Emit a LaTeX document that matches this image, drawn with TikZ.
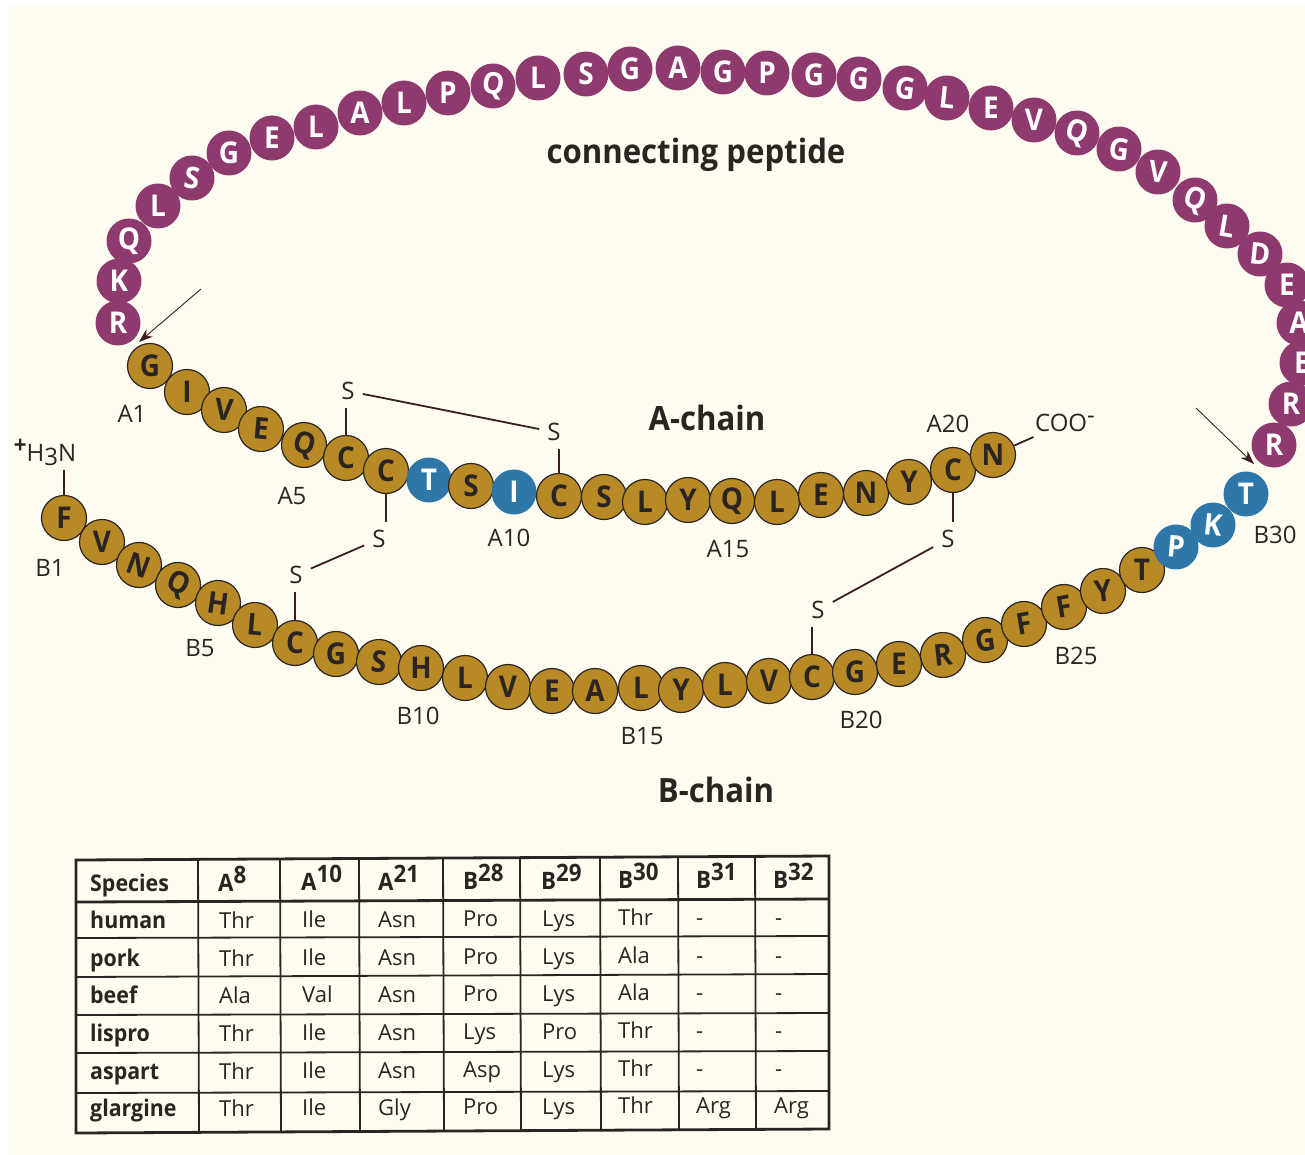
\documentclass[tikz,border=0pt]{standalone}
\usepackage{xcolor}
\usepackage{fontspec}
\setmainfont{Open Sans}[BoldFeatures={FakeStretch=0.93}]
\usetikzlibrary{arrows.meta}
\definecolor{paper}{HTML}{FEFCF0}
\definecolor{inkdark}{HTML}{2A2522}
\definecolor{gold}{HTML}{B88A26}
\definecolor{plum}{HTML}{8E3A6E}
\definecolor{steel}{HTML}{2F77A8}
\definecolor{bondred}{HTML}{3A1F22}
\newcommand{\upnum}[1]{\raisebox{8pt}{#1}}
\newcommand{\downnum}[1]{\raisebox{-4pt}{#1}}

\begin{document}
\begin{tikzpicture}[
  x=1pt, y=-1pt,
  linkres/.style={circle, fill=plum, text=white, inner sep=0pt, minimum size=45pt, font=\fontsize{30}{30}\selectfont\bfseries},
  chainres/.style={circle, draw=inkdark, line width=1.2pt, fill=gold, text=inkdark, inner sep=0pt, minimum size=45pt, font=\fontsize{30}{30}\selectfont\bfseries},
  swapres/.style={circle, fill=steel, text=white, inner sep=0pt, minimum size=45pt, font=\fontsize{30}{30}\selectfont\bfseries},
  sitelabel/.style={text=inkdark, inner sep=0pt, font=\fontsize{24}{26}\selectfont},
  sulfur/.style={text=inkdark, inner sep=8pt, font=\fontsize{24}{26}\selectfont},
  heading/.style={text=inkdark, inner sep=0pt, font=\fontsize{33.5}{35}\selectfont\bfseries},
  bond/.style={draw=bondred, line width=1.8pt},
  cut/.style={draw=bondred, line width=0.9pt, -{Stealth[length=14pt,width=10pt]}},
  gridline/.style={draw=inkdark, line width=1.8pt},
  gridframe/.style={draw=inkdark, line width=2.8pt},
  cellhead/.style={anchor=base west, text=inkdark, inner sep=0pt, font=\fontsize{24}{26}\selectfont\bfseries},
  cellname/.style={anchor=base west, text=inkdark, inner sep=0pt, font=\fontsize{23}{26}\selectfont\bfseries},
  cellval/.style={anchor=base west, text=inkdark, inner sep=0pt, font=\fontsize{22}{26}\selectfont}
]
  \useasboundingbox (0,0) rectangle (1305,1155);
  \fill[paper] (8,5) rectangle (1305,1155);

  % connecting peptide
  \node[linkres] (c1) at (118,323) {R};
  \node[linkres] (c2) at (119,281) {K};
  \node[linkres] (c3) at (129,241) {Q};
  \node[linkres] (c4) at (158,206) {L};
  \node[linkres,rotate=-8] (c5) at (192,178) {S};
  \node[linkres] (c6) at (229,153) {G};
  \node[linkres] (c7) at (272,138) {E};
  \node[linkres] (c8) at (316,127) {L};
  \node[linkres] (c9) at (360,113) {A};
  \node[linkres] (c10) at (404,103) {L};
  \node[linkres] (c11) at (448,93) {P};
  \node[linkres,rotate=-8] (c12) at (493,86) {Q};
  \node[linkres] (c13) at (538,78) {L};
  \node[linkres] (c14) at (586,74) {S};
  \node[linkres] (c15) at (630,69) {G};
  \node[linkres] (c16) at (678,68) {A};
  \node[linkres] (c17) at (723,72) {G};
  \node[linkres] (c18) at (767,73) {P};
  \node[linkres] (c19) at (814,75) {G};
  \node[linkres,rotate=-4] (c20) at (859,79) {G};
  \node[linkres,rotate=-8] (c21) at (905,88) {G};
  \node[linkres,rotate=-6] (c22) at (947,98) {L};
  \node[linkres] (c23) at (991,108) {E};
  \node[linkres] (c24) at (1034,120) {V};
  \node[linkres,rotate=-18] (c25) at (1077,133) {Q};
  \node[linkres,rotate=-8] (c26) at (1119,149) {G};
  \node[linkres,rotate=-6] (c27) at (1158,172) {V};
  \node[linkres,rotate=-20] (c28) at (1195,200) {Q};
  \node[linkres,rotate=-10] (c29) at (1227,226) {L};
  \node[linkres,rotate=-6] (c30) at (1260,254) {D};
  \node[linkres] (c31) at (1287,285) {E};
  \node[linkres] (c32) at (1299,323) {A};
  \node[linkres] (c33) at (1302,363) {E};
  \node[linkres] (c34) at (1291,404) {R};
  \node[linkres] (c35) at (1274,445) {R};

  % A-chain
  \node[chainres] (a1) at (150,366) {G};
  \node[chainres] (a2) at (187,392) {I};
  \node[chainres,rotate=-5] (a3) at (224,410) {V};
  \node[chainres,rotate=-5] (a4) at (261,429) {E};
  \node[chainres,rotate=-15] (a5) at (304,445) {Q};
  \node[chainres] (a6) at (346,458) {C};
  \node[chainres] (a7) at (386,471) {C};
  \node[swapres] (a8) at (429,480) {T};
  \node[chainres] (a9) at (471,486) {S};
  \node[swapres] (a10) at (514,492) {I};
  \node[chainres] (a11) at (559,496) {C};
  \node[chainres] (a12) at (604,497) {S};
  \node[chainres] (a13) at (645,502) {L};
  \node[chainres] (a14) at (688,500) {Y};
  \node[chainres] (a15) at (732,501) {Q};
  \node[chainres] (a16) at (777,502) {L};
  \node[chainres] (a17) at (821,495) {E};
  \node[chainres] (a18) at (866,493) {N};
  \node[chainres] (a19) at (909,482) {Y};
  \node[chainres] (a20) at (953,470) {C};
  \node[chainres] (a21) at (993,455) {N};

  % B-chain
  \node[chainres] (b1) at (64,518) {F};
  \node[chainres] (b2) at (102,542) {V};
  \node[chainres,rotate=-20] (b3) at (139,565) {N};
  \node[chainres,rotate=-25] (b4) at (178,585) {Q};
  \node[chainres,rotate=-8] (b5) at (218,603) {H};
  \node[chainres,rotate=-5] (b6) at (255,625) {L};
  \node[chainres] (b7) at (295,643) {C};
  \node[chainres] (b8) at (336,654) {G};
  \node[chainres,rotate=-6] (b9) at (379,662) {S};
  \node[chainres] (b10) at (421,668) {H};
  \node[chainres] (b11) at (465,678) {L};
  \node[chainres] (b12) at (508,687) {V};
  \node[chainres] (b13) at (552,691) {E};
  \node[chainres] (b14) at (595,691) {A};
  \node[chainres] (b15) at (641,688) {L};
  \node[chainres] (b16) at (681,690) {Y};
  \node[chainres] (b17) at (725,685) {L};
  \node[chainres] (b18) at (769,681) {V};
  \node[chainres] (b19) at (812,677) {C};
  \node[chainres] (b20) at (855,672) {G};
  \node[chainres] (b21) at (899,664) {E};
  \node[chainres,rotate=6] (b22) at (943,655) {R};
  \node[chainres,rotate=8] (b23) at (985,640) {G};
  \node[chainres,rotate=10] (b24) at (1024,624) {F};
  \node[chainres,rotate=10] (b25) at (1064,607) {F};
  \node[chainres,rotate=6] (b26) at (1103,591) {Y};
  \node[chainres] (b27) at (1142,570) {T};
  \node[swapres,rotate=-5] (b28) at (1176,547) {P};
  \node[swapres,rotate=-6] (b29) at (1213,525) {K};
  \node[swapres] (b30) at (1246,494) {T};

  % position labels
  \node[sitelabel] (la1) at (132,414) {A1};
  \node[sitelabel] (la5) at (292,496) {A5};
  \node[sitelabel] (la10) at (509,538) {A10};
  \node[sitelabel] (la15) at (728,549) {A15};
  \node[sitelabel] (la20) at (948,424) {A20};
  \node[sitelabel] (lb1) at (50,568) {B1};
  \node[sitelabel] (lb5) at (200,648) {B5};
  \node[sitelabel] (lb10) at (418,716) {B10};
  \node[sitelabel] (lb15) at (642,736) {B15};
  \node[sitelabel] (lb20) at (861,720) {B20};
  \node[sitelabel] (lb25) at (1076,656) {B25};
  \node[sitelabel] (lb30) at (1275,535) {B30};
  \node[sulfur,inner sep=5pt] (nterm) at (45,452) {\upnum{\textbf{+}}H\downnum{3}N};
  \node[sulfur,inner sep=5pt] (cterm) at (1065,423) {COO\upnum{-}};

  \node[heading] (tconn) at (696,155) {connecting peptide};
  \node[heading] (tachain) at (707,418) {A-chain};
  \node[heading] (tbchain) at (716,790) {B-chain};

  % disulfide bridges
  \node[sulfur] (s1) at (348,391) {S};
  \node[sulfur] (s2) at (554,432) {S};
  \node[sulfur] (s3) at (379,539) {S};
  \node[sulfur] (s4) at (296,575) {S};
  \node[sulfur] (s5) at (948,539) {S};
  \node[sulfur] (s6) at (818,610) {S};
  \draw[bond] (a6) -- (a6 |- s1.south);
  \draw[bond] (a11) -- (a11 |- s2.south);
  \draw[bond] (s1) -- (s2);
  \draw[bond] (a7) -- (a7 |- s3.north);
  \draw[bond] (s3) -- (s4);
  \draw[bond] (b7) -- (b7 |- s4.south);
  \draw[bond] (a20) -- (a20 |- s5.north);
  \draw[bond] (s5) -- (s6);
  \draw[bond] (b19) -- (b19 |- s6.south);
  \draw[bond] (b1) -- (b1 |- nterm.south);
  \draw[bond] (a21) -- (cterm);

  % cleavage sites
  \coordinate (cutafrom) at (201,289);
  \coordinate (cutato) at (139,342);
  \coordinate (cutbfrom) at (1196,408);
  \coordinate (cutbto) at (1254,464);
  \draw[cut] (cutafrom) -- (cutato);
  \draw[cut] (cutbfrom) -- (cutbto);

  % species table
  \draw[gridframe] (76,860) -- (829,856) -- (829,1129) -- (76,1133) -- cycle;
  \draw[gridframe] (76,902) -- (829,899);
  \draw[gridline] (76,938) -- (829,936);
  \draw[gridline] (76,977) -- (829,974);
  \draw[gridline] (76,1015) -- (829,1013);
  \draw[gridline] (76,1053) -- (829,1051);
  \draw[gridline] (76,1093) -- (829,1091);
  \draw[gridline] (198,859) -- (199,1132);
  \draw[gridline] (280,859) -- (281,1132);
  \draw[gridline] (359,859) -- (360,1132);
  \draw[gridline] (443,858) -- (444,1131);
  \draw[gridline] (520,858) -- (521,1131);
  \draw[gridline] (600,858) -- (601,1131);
  \draw[gridline] (678,857) -- (679,1130);
  \draw[gridline] (755,857) -- (756,1130);

  \node[cellname] (h0) at (90,891) {Species};
  \node[cellhead] (h1) at (218,891) {A\upnum{8}};
  \node[cellhead] (h2) at (301,890) {A\upnum{10}};
  \node[cellhead] (h3) at (378,890) {A\upnum{21}};
  \node[cellhead] (h4) at (463,889) {B\upnum{28}};
  \node[cellhead] (h5) at (541,889) {B\upnum{29}};
  \node[cellhead] (h6) at (618,888) {B\upnum{30}};
  \node[cellhead] (h7) at (696,888) {B\upnum{31}};
  \node[cellhead] (h8) at (773,888) {B\upnum{32}};

  \node[cellname] (r1c0) at (90,928) {human};
  \node[cellval] (r1c1) at (219,928) {Thr};
  \node[cellval] (r1c2) at (302,927) {Ile};
  \node[cellval] (r1c3) at (378,927) {Asn};
  \node[cellval] (r1c4) at (463,926) {Pro};
  \node[cellval] (r1c5) at (542,926) {Lys};
  \node[cellval] (r1c6) at (618,925) {Thr};
  \node[cellval] (r1c7) at (696,925) {-};
  \node[cellval] (r1c8) at (775,925) {-};

  \node[cellname] (r2c0) at (90,966) {pork};
  \node[cellval] (r2c1) at (219,966) {Thr};
  \node[cellval] (r2c2) at (302,965) {Ile};
  \node[cellval] (r2c3) at (378,965) {Asn};
  \node[cellval] (r2c4) at (463,964) {Pro};
  \node[cellval] (r2c5) at (542,964) {Lys};
  \node[cellval] (r2c6) at (618,963) {Ala};
  \node[cellval] (r2c7) at (696,963) {-};
  \node[cellval] (r2c8) at (775,963) {-};

  \node[cellname] (r3c0) at (90,1003) {beef};
  \node[cellval] (r3c1) at (219,1003) {Ala};
  \node[cellval] (r3c2) at (302,1002) {Val};
  \node[cellval] (r3c3) at (378,1002) {Asn};
  \node[cellval] (r3c4) at (463,1001) {Pro};
  \node[cellval] (r3c5) at (542,1001) {Lys};
  \node[cellval] (r3c6) at (618,1000) {Ala};
  \node[cellval] (r3c7) at (696,1000) {-};
  \node[cellval] (r3c8) at (775,1000) {-};

  \node[cellname] (r4c0) at (90,1041) {lispro};
  \node[cellval] (r4c1) at (219,1041) {Thr};
  \node[cellval] (r4c2) at (302,1040) {Ile};
  \node[cellval] (r4c3) at (378,1040) {Asn};
  \node[cellval] (r4c4) at (463,1039) {Lys};
  \node[cellval] (r4c5) at (542,1039) {Pro};
  \node[cellval] (r4c6) at (618,1038) {Thr};
  \node[cellval] (r4c7) at (696,1038) {-};
  \node[cellval] (r4c8) at (775,1038) {-};

  \node[cellname] (r5c0) at (90,1079) {aspart};
  \node[cellval] (r5c1) at (219,1079) {Thr};
  \node[cellval] (r5c2) at (302,1078) {Ile};
  \node[cellval] (r5c3) at (378,1078) {Asn};
  \node[cellval] (r5c4) at (463,1077) {Asp};
  \node[cellval] (r5c5) at (542,1077) {Lys};
  \node[cellval] (r5c6) at (618,1076) {Thr};
  \node[cellval] (r5c7) at (696,1076) {-};
  \node[cellval] (r5c8) at (775,1076) {-};

  \node[cellname] (r6c0) at (90,1116) {glargine};
  \node[cellval] (r6c1) at (219,1116) {Thr};
  \node[cellval] (r6c2) at (302,1115) {Ile};
  \node[cellval] (r6c3) at (378,1115) {Gly};
  \node[cellval] (r6c4) at (463,1114) {Pro};
  \node[cellval] (r6c5) at (542,1114) {Lys};
  \node[cellval] (r6c6) at (618,1113) {Thr};
  \node[cellval] (r6c7) at (696,1113) {Arg};
  \node[cellval] (r6c8) at (774,1113) {Arg};
\end{tikzpicture}
\end{document}
